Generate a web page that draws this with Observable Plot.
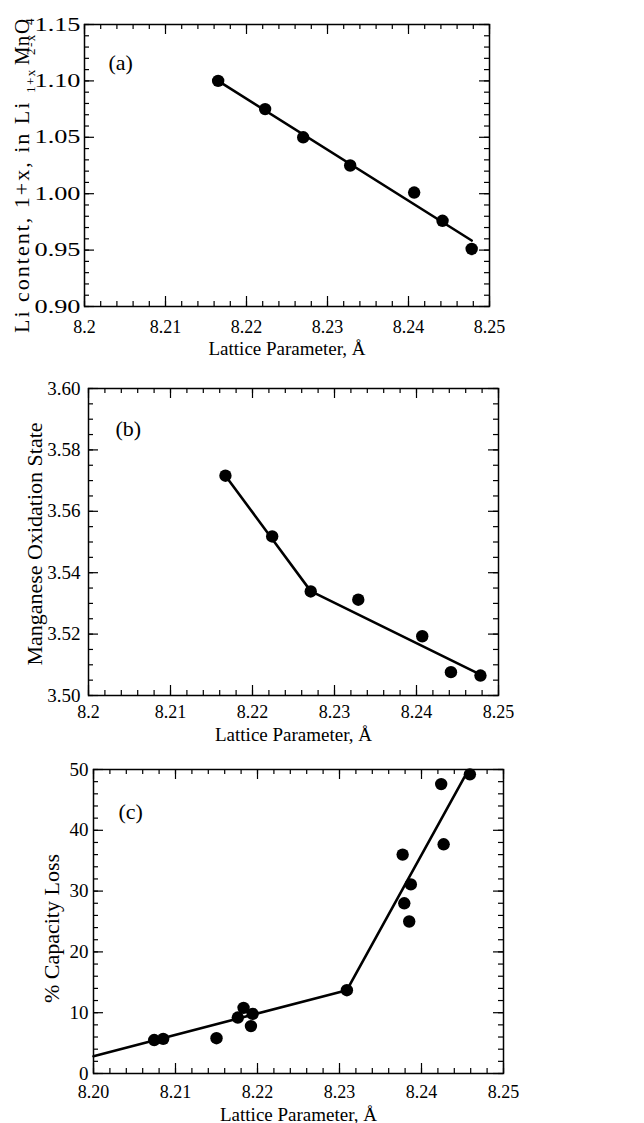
<!DOCTYPE html>
<html>
<head>
<meta charset="utf-8">
<script src="https://cdn.jsdelivr.net/npm/d3@7"></script>
<script src="https://cdn.jsdelivr.net/npm/@observablehq/plot@0.6"></script>
<style>
html, body { margin: 0; padding: 0; background: #fff; }
#chart { width: 644px; }
#chart svg { display: block; overflow: visible; }
</style>
</head>
<body>
<div id="chart"></div>
<script>
// ---------- Panel (a): Li content vs lattice parameter ----------
const latticeA = [8.2165, 8.2223, 8.2270, 8.2328, 8.2407, 8.2442, 8.2478];
const liContent = [1.100, 1.075, 1.050, 1.025, 1.001, 0.976, 0.951];
const liFitX = [8.2165, 8.2478];
const liFitY = [1.100, 0.9585];

// ---------- Panel (b): Mn oxidation state ----------
const latticeB = [8.2167, 8.2224, 8.2271, 8.2329, 8.2407, 8.2442, 8.2478];
const mnOxidation = [3.5716, 3.5518, 3.5339, 3.5312, 3.5193, 3.5076, 3.5065];
const mnFitX = [8.2167, 8.2271, 8.2478];
const mnFitY = [3.5716, 3.5340, 3.5068];

// ---------- Panel (c): capacity loss ----------
const latticeC = [8.2074, 8.2085, 8.2150, 8.2176, 8.2183, 8.2194, 8.2192, 8.2309,
                  8.2377, 8.2379, 8.2387, 8.2385, 8.2424, 8.2427, 8.2459];
const capacityLoss = [5.5, 5.7, 5.8, 9.2, 10.8, 9.8, 7.8, 13.7,
                      36.0, 28.0, 31.1, 25.0, 47.6, 37.7, 49.2];
const capFitX = [8.2000, 8.2309, 8.2453];
const capFitY = [2.85, 13.7, 48.9];

// ---------- ticks and labels ----------
const xMajor = [8.20, 8.21, 8.22, 8.23, 8.24, 8.25];
const xLabelsAB = ["8.2", "8.21", "8.22", "8.23", "8.24", "8.25"];
const xLabelsC = ["8.20", "8.21", "8.22", "8.23", "8.24", "8.25"];
const yMajorA = [0.90, 0.95, 1.00, 1.05, 1.10, 1.15];
const yLabelsA = ["0.90", "0.95", "1.00", "1.05", "1.10", "1.15"];
const yMajorB = [3.50, 3.52, 3.54, 3.56, 3.58, 3.60];
const yLabelsB = ["3.50", "3.52", "3.54", "3.56", "3.58", "3.60"];
const yMajorC = [0, 10, 20, 30, 40, 50];
const yLabelsC = ["0", "10", "20", "30", "40", "50"];
const xMinorStep = 0.002, yMinorStepA = 0.01, yMinorStepB = 0.005, yMinorStepC = 2;

const xTitle = "Lattice Parameter, Å";
const W = 644;
const FONT = "'Liberation Serif', 'Times New Roman', Times, serif";

function minorTicks(lo, hi, step) {
  const n = Math.round((hi - lo) / step);
  return d3.range(n + 1).map(i => lo + i * step);
}

function panel(cfg) {
  const {height, mt, mb, ml, mr, xDomain, yDomain, xLabels, yMajor, yLabels, yStep,
         xs, ys, fx, fy, tag, tagDx, tagDy, xPad, yPad, xTitleDy, yTitle, yTitleDx, yTitleDy} = cfg;
  const iw = W - ml - mr, ih = height - mt - mb;
  const MAJ = 10, MIN = 5;
  const ts = {stroke: "#000", strokeWidth: 1.2};
  const xMin = minorTicks(xDomain[0], xDomain[1], xMinorStep);
  const yMin = minorTicks(yDomain[0], yDomain[1], yStep);
  const pts = xs.map((x, i) => ({x, y: ys[i]}));
  const fit = fx.map((x, i) => ({x, y: fy[i]}));
  const marks = [
    Plot.frame({stroke: "#000", strokeWidth: 1.5}),
    // inward ticks on all four sides
    Plot.tickX(xMin, {x: d => d, insetTop: ih - MIN, ...ts}),
    Plot.tickX(xMin, {x: d => d, insetBottom: ih - MIN, ...ts}),
    Plot.tickX(xMajor, {x: d => d, insetTop: ih - MAJ, ...ts}),
    Plot.tickX(xMajor, {x: d => d, insetBottom: ih - MAJ, ...ts}),
    Plot.tickY(yMin, {y: d => d, insetRight: iw - MIN, ...ts}),
    Plot.tickY(yMin, {y: d => d, insetLeft: iw - MIN, ...ts}),
    Plot.tickY(yMajor, {y: d => d, insetRight: iw - MAJ, ...ts}),
    Plot.tickY(yMajor, {y: d => d, insetLeft: iw - MAJ, ...ts}),
    Plot.axisX(xMajor, {tickSize: 0, tickPadding: xPad, label: null, fontSize: 18,
      tickFormat: d => xLabels[xMajor.indexOf(d)]}),
    Plot.axisY(yMajor, {anchor: "left", tickSize: 0, tickPadding: yPad, label: null, fontSize: 19,
      tickFormat: d => yLabels[yMajor.indexOf(d)]}),
    Plot.line(fit, {x: "x", y: "y", stroke: "#000", strokeWidth: 2.6}),
    Plot.dot(pts, {x: "x", y: "y", r: 6.2, fill: "#000", stroke: "none"}),
    Plot.text([tag], {frameAnchor: "top-left", dx: tagDx, dy: tagDy, textAnchor: "start",
      lineAnchor: "middle", fontSize: 22}),
    Plot.text([xTitle], {frameAnchor: "bottom", dy: xTitleDy, lineAnchor: "middle", fontSize: 19})
  ];
  if (yTitle) {
    marks.push(Plot.text([yTitle], {frameAnchor: "left", rotate: -90, dx: yTitleDx, dy: yTitleDy,
      textAnchor: "middle", lineAnchor: "middle", fontSize: 22}));
  }
  return Plot.plot({
    width: W, height,
    marginTop: mt, marginBottom: mb, marginLeft: ml, marginRight: mr,
    x: {domain: xDomain},
    y: {domain: yDomain},
    style: {fontFamily: FONT, fontSize: "19px", color: "#000", background: "transparent"},
    marks
  });
}

const chart = document.getElementById("chart");

const svgA = panel({
  height: 360, mt: 24, mb: 54, ml: 84, mr: 155,
  xDomain: [8.2, 8.25], yDomain: [0.9, 1.15],
  xLabels: xLabelsAB, yMajor: yMajorA, yLabels: yLabelsA, yStep: yMinorStepA,
  xs: latticeA, ys: liContent, fx: liFitX, fy: liFitY,
  tag: "(a)", tagDx: 24, tagDy: 38, xPad: 14, yPad: 4, xTitleDy: 42
});
// wider (horizontally stretched) y tick labels in panel (a)
d3.select(svgA).selectAll('g[aria-label="y-axis tick label"] text')
  .attr("textLength", 46).attr("lengthAdjust", "spacingAndGlyphs");
// y title with subscripts for panel (a)
{
  const t = d3.select(svgA).append("text")
    .attr("transform", "translate(29,0) rotate(-90)")
    .attr("text-anchor", "start")
    .attr("font-family", FONT).attr("fill", "#000").attr("font-size", 22);
  t.append("tspan").attr("x", -333).attr("y", 0).attr("letter-spacing", "2px").text("Li content, 1+x, in Li");
  t.append("tspan").attr("x", -93).attr("y", 6).attr("font-size", 13).attr("letter-spacing", "1.5px").text("1+x");
  t.append("tspan").attr("x", -65).attr("y", 0).attr("font-size", 21).text("Mn");
  t.append("tspan").attr("x", -55).attr("y", 6).attr("font-size", 13).attr("letter-spacing", "1.5px").text("2-x");
  t.append("tspan").attr("x", -34).attr("y", 0).attr("font-size", 21).text("O");
  t.append("tspan").attr("x", -25).attr("y", 5).attr("font-size", 13).text("4");
}
chart.appendChild(svgA);

const svgB = panel({
  height: 380, mt: 28, mb: 45, ml: 88, mr: 146,
  xDomain: [8.2, 8.25], yDomain: [3.5, 3.6],
  xLabels: xLabelsAB, yMajor: yMajorB, yLabels: yLabelsB, yStep: yMinorStepB,
  xs: latticeB, ys: mnOxidation, fx: mnFitX, fy: mnFitY,
  tag: "(b)", tagDx: 27, tagDy: 40, xPad: 10, yPad: 8, xTitleDy: 39,
  yTitle: "Manganese Oxidation State", yTitleDx: -54, yTitleDy: 2
});
chart.appendChild(svgB);

const svgC = panel({
  height: 383, mt: 29, mb: 50, ml: 93, mr: 141,
  xDomain: [8.2, 8.25], yDomain: [0, 50],
  xLabels: xLabelsC, yMajor: yMajorC, yLabels: yLabelsC, yStep: yMinorStepC,
  xs: latticeC, ys: capacityLoss, fx: capFitX, fy: capFitY,
  tag: "(c)", tagDx: 25, tagDy: 42, xPad: 12, yPad: 5, xTitleDy: 41,
  yTitle: "% Capacity Loss", yTitleDx: -42, yTitleDy: 7
});
chart.appendChild(svgC);
</script>
</body>
</html>
